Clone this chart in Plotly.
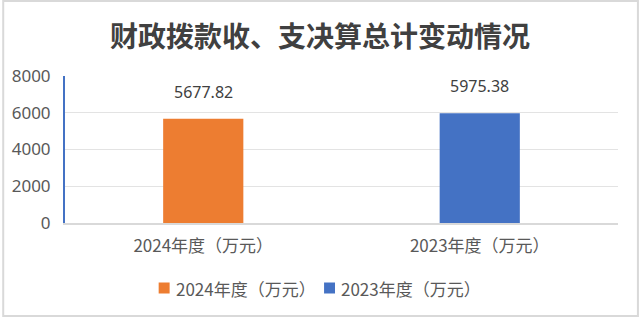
import plotly.graph_objects as go

categories = ["2024年度（万元）", "2023年度（万元）"]
values = [5677.82, 5975.38]
colors = ["#ED7D31", "#4472C4"]
labels = ["5677.82", "5975.38"]
y_ticks = [0, 2000, 4000, 6000, 8000]

W, H = 640, 318
ml, mr, mt, mb = 63, 22, 76, 95
pw, ph = W - ml - mr, H - mt - mb

def px_x(p):
    return (p - ml) / pw

def px_y(p):
    return (H - mb - p) / ph

fig = go.Figure()
for c, v, col, lab in zip(categories, values, colors, labels):
    fig.add_trace(go.Bar(
        x=[c], y=[v], name=c, marker=dict(color=col, line=dict(width=0)),
        width=0.29, showlegend=False,
    ))
    fig.add_annotation(x=c, y=v, text=lab, showarrow=False, yanchor="bottom",
                       yshift=14, font=dict(family="Noto Sans, sans-serif", size=16, color="#404040"))

# border
fig.add_shape(type="rect", xref="paper", yref="paper",
              x0=px_x(1), x1=px_x(638), y0=px_y(316), y1=px_y(1),
              line=dict(color="#D9D9D9", width=2), layer="below")

# legend (manual, to match spacing)
leg_sq_x = [157, 323]
leg_y = 288
for sx, c, col in zip(leg_sq_x, categories, colors):
    fig.add_shape(type="rect", xref="paper", yref="paper",
                  x0=px_x(sx), x1=px_x(sx + 11), y0=px_y(leg_y + 5.5), y1=px_y(leg_y - 5.5),
                  line=dict(width=0), fillcolor=col)
    fig.add_annotation(xref="paper", yref="paper", x=px_x(sx + 15), y=px_y(leg_y),
                       xanchor="left", yanchor="middle", showarrow=False, text=c,
                       font=dict(family="Noto Sans CJK SC", size=17, color="#595959"))

fig.update_layout(
    width=W, height=H,
    margin=dict(l=ml, r=mr, t=mt, b=mb),
    paper_bgcolor="white", plot_bgcolor="white",
    barmode="overlay",
    title=dict(text="财政拨款收、支决算总计变动情况", x=0.5, xref="container",
               y=1 - 37 / H, yanchor="middle", xanchor="center",
               font=dict(family="Noto Sans CJK SC", size=28, color="#404040", weight="bold")),
    showlegend=False,
    font=dict(family="Noto Sans CJK SC", color="#595959"),
)
fig.update_xaxes(showgrid=False, showline=True, linecolor="#D9D9D9", linewidth=1.5,
                 ticks="", tickfont=dict(family="Noto Sans CJK SC", size=17, color="#595959"),
                 ticklabelstandoff=7)
fig.update_yaxes(range=[0, 8000], tickvals=y_ticks, showgrid=True, gridcolor="#E3E3E3",
                 gridwidth=1.2, showline=True, linecolor="#4472C4", linewidth=2,
                 zeroline=False, ticks="", ticklabelstandoff=9,
                 tickfont=dict(family="Noto Sans, sans-serif", size=17, color="#595959"))

fig.write_html("out.html")
